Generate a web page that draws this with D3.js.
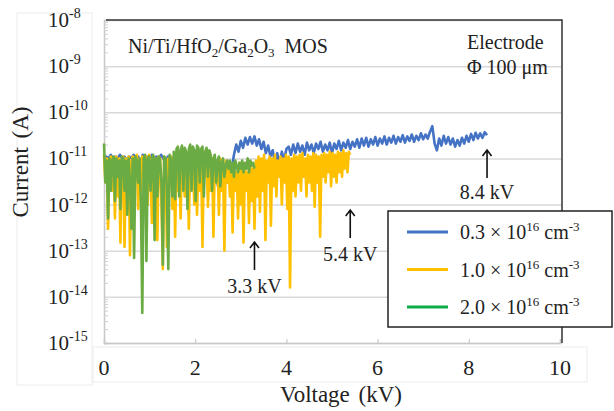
<!DOCTYPE html>
<html>
<head>
<meta charset="utf-8">
<script src="https://cdn.jsdelivr.net/npm/d3@7/dist/d3.min.js"></script>
<style>
  html, body { margin: 0; padding: 0; background: #fff; }
  text { font-family: "Liberation Serif", "DejaVu Serif", serif; }
</style>
</head>
<body>
<svg id="chart" width="614" height="411" font-family="Liberation Serif, serif"></svg>
<script>
// Leakage current (pA) of Ni/Ti/HfO2/Ga2O3 MOS capacitors, swept from 0 kV to breakdown.
const seriesNames = ["0.3", "1.0", "2.0"];
const breakdownKV = [8.4, 5.4, 3.3];

const currentLowDoping = [
  9, 11, 10, 12, 9, 11, 10, 12, 10, 11, 9,
  11, 10, 12, 9, 11, 8, 12, 10, 11, 9,
  12, 10, 11, 9, 12, 10, 8, 11, 9, 10,
  11, 8, 10, 6, 9, 11, 7, 10, 8, 11,
  9, 7, 10, 5, 8, 6, 9, 3, 5, 2.5,
  4, 2, 5, 3, 8, 6,
  12, 20, 14, 24, 17, 28, 20, 29, 21, 30, 19, 26, 16, 23,
  13, 19, 11, 15, 8, 13, 7.5, 14, 9, 16,
  18, 12, 20, 13, 21, 14, 19, 12, 22, 15, 20, 13, 21, 16, 23, 14, 20, 15, 22, 13, 21, 16, 24, 15, 22, 17, 25, 16, 23, 18,
  26, 17, 27, 19, 28, 18, 26, 20, 29, 19, 27, 21, 30, 20, 28, 22, 31, 21, 29, 23,
  32, 22, 30, 24, 33, 23, 31, 25, 35, 26,
  33, 27, 38, 50, 21,
  15, 27, 19, 31, 21, 29, 20, 27, 18, 25, 19, 28, 21, 31, 23, 34, 25, 36, 27, 35, 28, 37, 32
];

const currentMidDoping = [
  12, 3, 10, 0.3, 9, 11, 2, 10, 0.5, 11, 1.5,
  10, 0.15, 9, 11, 0.12, 10, 3, 11, 0.08, 9,
  11, 1.5, 10, 12, 0.8, 10, 2, 11, 4, 10,
  11, 1.0, 12, 9, 0.4, 11, 2.5, 10, 0.17, 11,
  10, 1.2, 0.04, 11, 9, 0.12, 10, 3, 11, 0.8,
  10, 0.2, 11, 2, 9, 0.5, 11, 10, 1.5, 9,
  11, 0.3, 10, 3, 8, 1, 10, 0.6, 9, 2,
  10, 0.12, 9, 4, 11, 0.9, 8, 2, 10, 0.2,
  9, 3, 8, 0.6, 10, 2, 7, 0.1, 9, 3,
  8, 1.5, 6, 0.25, 7, 2, 5, 0.5, 8, 1,
  6, 0.15, 7, 2, 5, 0.4, 8, 1.2, 6, 0.3,
  9, 1.5, 11, 0.7, 10, 2, 12, 0.17, 9, 3,
  11, 0.35, 10, 2.5, 12, 1.5, 9, 4, 11, 1,
  10, 3, 12, 0.8, 11, 0.016, 10, 2, 12, 1.5,
  11, 3, 12, 2, 13, 4, 10, 1.5, 12, 3,
  11, 2, 13, 0.9, 12, 3, 11, 0.2, 12, 4,
  13, 3, 12, 5, 14, 2.5, 13, 4, 12, 3,
  14, 5, 13, 4, 15, 6, 13, 5, 14, 12
];

const currentHighDoping = [
  21, 3, 9, 0.5, 10, 2, 9, 11, 1.2, 10, 4,
  9, 0.8, 11, 10, 2, 9, 0.6, 10, 3, 0.3,
  10, 0.07, 11, 9, 3, 10, 1, 0.0045, 10, 12,
  0.06, 10, 11, 2, 9, 12, 0.17, 10, 1.5, 11,
  9, 3, 0.05, 11, 10, 2, 0.04, 12, 9, 1.5,
  14, 1.3, 16, 18, 1.5, 15, 19, 2, 17, 14,
  0.8, 16, 20, 2, 18, 15, 1.2, 19, 17, 3,
  16, 18, 1.5, 14, 17, 4, 15, 12, 2, 10,
  12, 3, 9, 11, 2.5, 8, 10, 4, 7, 9,
  6, 9, 5, 8, 4, 9, 7, 5, 8, 6,
  9, 5, 8, 6, 10, 5, 9, 7, 8, 6
];

const voltageTicks = [0, 2, 4, 6, 8, 10];
const currentTicks = [1e-15, 1e-14, 1e-13, 1e-12, 1e-11, 1e-10, 1e-9, 1e-8];
const annotationKV = [3.3, 5.4, 8.4];

const lineColors = ["#4472c4", "#ffc000", "#6aab43"];
const legendColors = ["#4472c4", "#ffc000", "#0fac4a"];

const FONT = "Liberation Serif, DejaVu Serif, serif";
const svg = d3.select("#chart");
const x = d3.scaleLinear().domain([0, 10]).range([104, 560]);
const y = d3.scaleLog().domain([1e-15, 1e-8]).range([343, 20]);
const right = 562;

function label(parent, px, py, size) {
  return parent.append("text").attr("x", px).attr("y", py)
    .attr("font-family", FONT).attr("font-size", size).attr("fill", "#222");
}

// faint frames behind the tick-label areas
svg.append("rect").attr("x", 17).attr("y", 13).attr("width", 75).attr("height", 372)
  .attr("fill", "none").attr("stroke", "#ececec").attr("stroke-width", 1);
svg.append("rect").attr("x", 93).attr("y", 347).attr("width", 494).attr("height", 35)
  .attr("fill", "none").attr("stroke", "#ececec").attr("stroke-width", 1);

// horizontal gridlines at each decade
const grid = svg.append("g").attr("transform", `translate(${x(0)},0)`)
  .call(d3.axisLeft(y).tickValues(currentTicks).tickFormat("").tickSize(-(right - x(0))));
grid.select(".domain").remove();
grid.selectAll("line").attr("stroke", "#d9d9d9").attr("stroke-width", 1.5);

// minor log ticks on the current axis
const minor = [];
for (let e = -15; e < -8; e++) for (let m = 2; m <= 9; m++) minor.push(m * Math.pow(10, e));
const minorAxis = svg.append("g").attr("transform", `translate(${x(0)},0)`)
  .call(d3.axisLeft(y).tickValues(minor).tickFormat("").tickSize(-4));
minorAxis.select(".domain").attr("stroke", "#c8c8c8").attr("stroke-width", 1.5);
minorAxis.selectAll("line").attr("stroke", "#d0d0d0");

// current tick labels: 10 with a superscript exponent
currentTicks.forEach(v => {
  const t = label(svg, 48, y(v) + 7, 21);
  t.append("tspan").text("10");
  t.append("tspan").attr("dy", -9).attr("font-size", 14).text(String(Math.round(Math.log10(v))));
});

// voltage axis
const xAxis = svg.append("g").attr("transform", `translate(0,${y(1e-15)})`)
  .call(d3.axisBottom(x).tickValues(voltageTicks).tickFormat("").tickSize(-4));
xAxis.select(".domain").attr("stroke", "#c8c8c8").attr("stroke-width", 1.5);
xAxis.selectAll("line").attr("stroke", "#c8c8c8").attr("stroke-width", 1.2);
voltageTicks.forEach(v => {
  label(svg, x(v), 375, 22).attr("text-anchor", "middle").text(v);
});

// plot frame on the top and right
svg.append("path").attr("d", `M${x(0) + 2},${y(1e-8)}H${right}V${y(1e-15)}`)
  .attr("fill", "none").attr("stroke", "#333").attr("stroke-width", 1.5);

// axis titles
label(svg, 341, 402, 23).attr("text-anchor", "middle").attr("word-spacing", 3).text("Voltage (kV)");
label(svg, 0, 0, 23).attr("transform", "translate(28,162) rotate(-90)")
  .attr("text-anchor", "middle").attr("word-spacing", 3).text("Current (A)");

// I-V traces
const traces = [currentLowDoping, currentMidDoping, currentHighDoping];
const line = d3.line().x(d => x(d[0])).y(d => y(d[1]));
traces.forEach((vals, k) => {
  const pts = vals.map((pA, i) => [i * breakdownKV[k] / (vals.length - 1), pA * 1e-12]);
  svg.append("path").datum(pts).attr("d", line)
    .attr("fill", "none").attr("stroke", lineColors[k])
    .attr("stroke-width", 2.6).attr("stroke-linejoin", "round");
});

// device description
const title = label(svg, 128, 53, 20);
title.append("tspan").text("Ni/Ti/HfO");
title.append("tspan").attr("dy", 4).attr("font-size", 13).text("2");
title.append("tspan").attr("dy", -4).text("/Ga");
title.append("tspan").attr("dy", 4).attr("font-size", 13).text("2");
title.append("tspan").attr("dy", -4).text("O");
title.append("tspan").attr("dy", 4).attr("font-size", 13).text("3");
title.append("tspan").attr("dy", -4).text("\u00a0\u00a0MOS");

label(svg, 467, 49, 20).text("Electrode");
label(svg, 467, 74, 20).text("\u03a6 100 \u03bcm");

// breakdown arrows
const arrowTop = [242, 210, 150];
const labelBase = [293, 261, 199];
annotationKV.forEach((kv, i) => {
  const ax = x(kv), top = arrowTop[i];
  svg.append("path").attr("d", `M${ax},${top + 28}V${top}M${ax - 4.5},${top + 6}L${ax},${top}L${ax + 4.5},${top + 6}`)
    .attr("fill", "none").attr("stroke", "#111").attr("stroke-width", 1.6);
  label(svg, ax, labelBase[i], 20).attr("text-anchor", "middle").text(`${kv.toFixed(1)} kV`);
});

// legend
const lg = svg.append("g");
lg.append("rect").attr("x", 388).attr("y", 211).attr("width", 224).attr("height", 116)
  .attr("fill", "#fff").attr("stroke", "#222").attr("stroke-width", 1.5);
seriesNames.forEach((name, i) => {
  const ly = 232 + i * 37.5;
  lg.append("line").attr("x1", 407).attr("x2", 448).attr("y1", ly).attr("y2", ly)
    .attr("stroke", legendColors[i]).attr("stroke-width", 3);
  const t = label(lg, 460, ly + 7, 20);
  t.append("tspan").text(`${name} \u00d7 10`);
  t.append("tspan").attr("dy", -8).attr("font-size", 13).text("16");
  t.append("tspan").attr("dy", 8).text(" cm");
  t.append("tspan").attr("dy", -8).attr("font-size", 13).text("-3");
});
</script>
</body>
</html>
